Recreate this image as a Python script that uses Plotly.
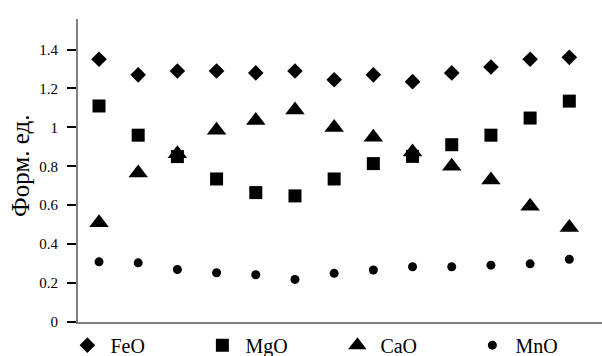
import plotly.graph_objects as go

samples = list(range(1, 14))
feo = [1.35, 1.27, 1.29, 1.29, 1.28, 1.29, 1.245, 1.27, 1.235, 1.28, 1.31, 1.35, 1.36]
mgo = [1.11, 0.96, 0.85, 0.735, 0.665, 0.648, 0.735, 0.814, 0.851, 0.911, 0.96, 1.048, 1.135]
cao = [0.51, 0.766, 0.865, 0.985, 1.036, 1.09, 1.0, 0.95, 0.873, 0.80, 0.73, 0.595, 0.486]
mno = [0.309, 0.304, 0.27, 0.253, 0.243, 0.219, 0.25, 0.267, 0.284, 0.284, 0.292, 0.299, 0.322]

y_ticks = [0, 0.2, 0.4, 0.6, 0.8, 1.0, 1.2, 1.4]
y_tick_labels = ["0", "0.2", "0.4", "0.6", "0.8", "1", "1.2", "1.4"]
y_title = "Форм. ед."

series = [
    ("FeO", feo, "diamond", 12),
    ("MgO", mgo, "square", 13),
    ("CaO", cao, "triangle-up", 17),
    ("MnO", mno, "circle", 9),
]

fig = go.Figure()
for name, vals, sym, size in series:
    fig.add_trace(go.Scatter(
        x=samples, y=vals, mode="markers", name=name,
        marker=dict(symbol=sym, size=size, color="black", line=dict(width=0)),
    ))

font = "Liberation Serif, Times New Roman, serif"
fig.update_layout(
    width=602, height=356,
    margin=dict(l=78, r=0, t=19, b=34, autoexpand=False),
    paper_bgcolor="white", plot_bgcolor="white",
    font=dict(family=font, color="black", size=14),
    showlegend=True,
    legend=dict(
        orientation="h", x=-0.026, xanchor="left", y=-0.012, yanchor="top",
        font=dict(family=font, size=20, color="black"),
        entrywidth=84, entrywidthmode="pixels", itemwidth=36,
        itemsizing="trace", bgcolor="rgba(0,0,0,0)",
    ),
    xaxis=dict(
        range=[0.464, 13.834], showgrid=False, zeroline=False,
        showline=True, linecolor="#808080", linewidth=2,
        showticklabels=False, ticks="", automargin=False,
    ),
    yaxis=dict(
        range=[0, 1.557], showgrid=False, zeroline=False,
        showline=True, linecolor="#808080", linewidth=2,
        tickvals=y_ticks, ticktext=y_tick_labels,
        ticks="outside", ticklen=9, tickcolor="black", tickwidth=2,
        ticklabelstandoff=6, automargin=False,
        tickfont=dict(family=font, size=15, color="black"),
    ),
    annotations=[dict(
        text=y_title, textangle=-90, xref="paper", yref="paper",
        x=-0.1088, y=0.515, xanchor="center", yanchor="middle", showarrow=False,
        font=dict(family=font, size=25, color="black"),
    )],
)

fig.write_html(
    "out.html",
    config={"displayModeBar": False},
    post_script="document.body.style.margin='0';document.body.style.overflow='hidden';",
)
